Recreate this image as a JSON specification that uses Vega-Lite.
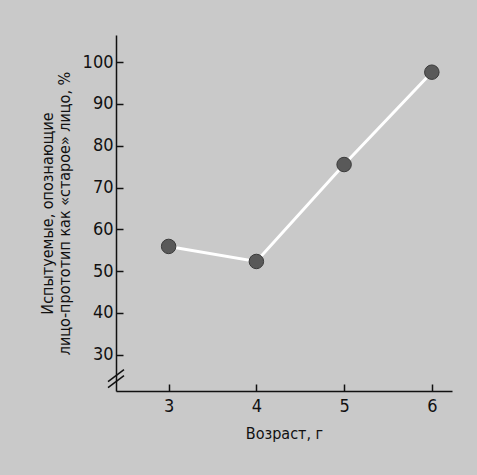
{
  "$schema": "https://vega.github.io/schema/vega-lite/v6.json",
  "width": 336,
  "height": 356,
  "autosize": {"type": "none"},
  "padding": {"left": 116, "top": 35, "right": 25, "bottom": 84},
  "background": "#c9c9c9",
  "config": {
    "view": {"stroke": null},
    "font": "DejaVu Sans Condensed",
    "axis": {
      "domainColor": "#111",
      "domainWidth": 1.5,
      "tickColor": "#111",
      "tickWidth": 1.5,
      "tickSize": -7,
      "grid": false,
      "labelFont": "DejaVu Sans Condensed",
      "labelFontSize": 18,
      "labelColor": "#111",
      "titleFont": "DejaVu Sans Condensed",
      "titleFontSize": 16,
      "titleFontWeight": "normal",
      "titleColor": "#111"
    }
  },
  "datasets": {
    "pts": [
      {"age": 3, "pct": 55.9},
      {"age": 4, "pct": 52.3},
      {"age": 5, "pct": 75.5},
      {"age": 6, "pct": 97.6}
    ],
    "brk": [
      {"x1": 2.309, "y1": 23.54, "x2": 2.491, "y2": 26.41},
      {"x1": 2.309, "y1": 22.11, "x2": 2.491, "y2": 24.98}
    ]
  },
  "layer": [
    {
      "data": {"name": "pts"},
      "mark": {"type": "line", "color": "white", "strokeWidth": 3},
      "encoding": {
        "x": {
          "field": "age", "type": "quantitative",
          "scale": {"domain": [2.4, 6.23], "nice": false, "zero": false},
          "axis": {"values": [3, 4, 5, 6], "format": "d", "title": "Возраст, г", "labelPadding": 13, "titlePadding": 10}
        },
        "y": {
          "field": "pct", "type": "quantitative",
          "scale": {"domain": [21.3, 106.5], "nice": false, "zero": false},
          "axis": {
            "values": [30, 40, 50, 60, 70, 80, 90, 100],
            "format": "d",
            "title": ["Испытуемые, опознающие", "лицо-прототип как «старое» лицо, %"],
            "titleLineHeight": 17,
            "labelPadding": 10,
            "titlePadding": 10
          }
        }
      }
    },
    {
      "data": {"name": "pts"},
      "mark": {"type": "point", "filled": true, "size": 210, "color": "#595959", "stroke": "#3a3a3a", "strokeWidth": 1, "opacity": 1},
      "encoding": {
        "x": {"field": "age", "type": "quantitative"},
        "y": {"field": "pct", "type": "quantitative"}
      }
    },
    {
      "data": {"name": "brk"},
      "mark": {"type": "rule", "color": "#111", "strokeWidth": 1.5},
      "encoding": {
        "x": {"field": "x1", "type": "quantitative"},
        "y": {"field": "y1", "type": "quantitative"},
        "x2": {"field": "x2"},
        "y2": {"field": "y2"}
      }
    }
  ]
}
